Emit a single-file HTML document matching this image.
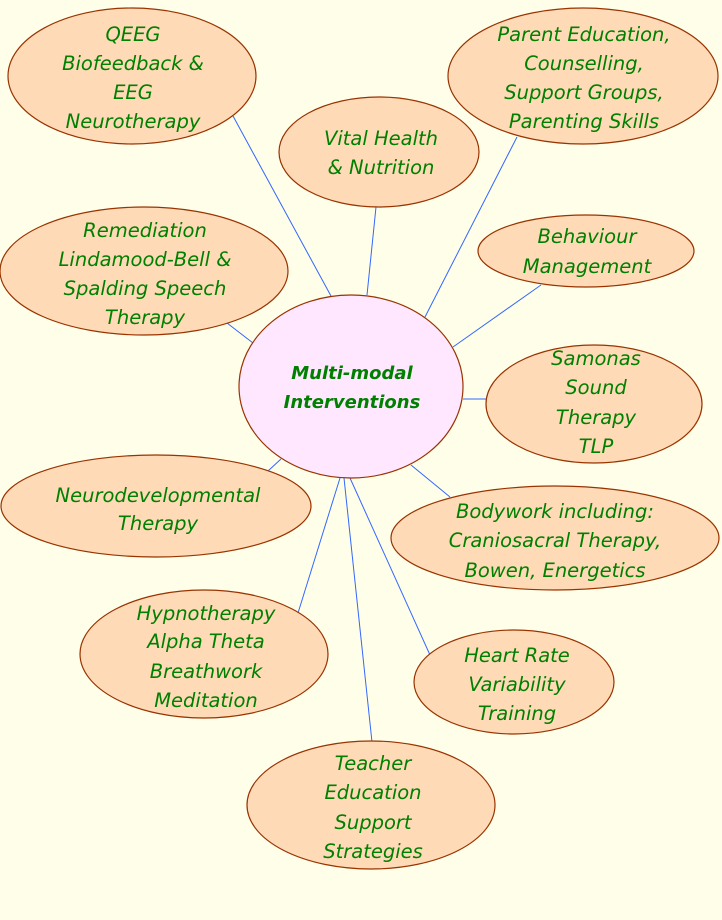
<!DOCTYPE html>
<html>
<head>
<meta charset="utf-8">
<style>
  html, body { margin: 0; padding: 0; background: #FFFFE9; }
  svg { display: block; }
  text {
    font-family: "DejaVu Sans", "Liberation Sans", sans-serif;
    font-style: oblique;
    font-size: 19.5px;
    fill: #008000;
    text-anchor: middle;
  }
  text.b { font-weight: bold; font-size: 18px; }
  .n { fill: #FEDAB7; stroke: #993300; stroke-width: 1.2; }
  .c { fill: #FFE8FF; stroke: #993300; stroke-width: 1.2; }
  line { stroke: #3366FF; stroke-width: 1; }
</style>
</head>
<body>
<svg width="722" height="920" viewBox="0 0 722 920" xmlns="http://www.w3.org/2000/svg">
  <rect x="0" y="0" width="722" height="920" fill="#FFFFE9"/>

  <!-- connectors -->
  <line x1="233" y1="116" x2="331" y2="296"/>
  <line x1="376" y1="207" x2="367" y2="295"/>
  <line x1="517" y1="137" x2="425" y2="317"/>
  <line x1="541" y1="285" x2="453" y2="347"/>
  <line x1="463" y1="399" x2="487" y2="399"/>
  <line x1="411" y1="465" x2="450" y2="497"/>
  <line x1="350" y1="478" x2="430" y2="655"/>
  <line x1="344" y1="478" x2="372" y2="742"/>
  <line x1="340" y1="478" x2="298" y2="613"/>
  <line x1="281" y1="459" x2="268" y2="471"/>
  <line x1="227" y1="323" x2="253" y2="343"/>

  <!-- nodes -->
  <ellipse class="n" cx="132" cy="76" rx="124" ry="68"/>
  <text x="133" y="41">QEEG</text>
  <text x="133" y="70">Biofeedback &amp;</text>
  <text x="133" y="99">EEG</text>
  <text x="133" y="128">Neurotherapy</text>

  <ellipse class="n" cx="379" cy="152" rx="100" ry="55"/>
  <text x="381" y="145">Vital Health</text>
  <text x="381" y="174">&amp; Nutrition</text>

  <ellipse class="n" cx="583" cy="76" rx="135" ry="68"/>
  <text x="584" y="41">Parent Education,</text>
  <text x="584" y="70">Counselling,</text>
  <text x="584" y="99">Support Groups,</text>
  <text x="584" y="128">Parenting Skills</text>

  <ellipse class="n" cx="144" cy="271" rx="144" ry="64"/>
  <text x="145" y="237">Remediation</text>
  <text x="145" y="266">Lindamood-Bell &amp;</text>
  <text x="145" y="295">Spalding Speech</text>
  <text x="145" y="324">Therapy</text>

  <ellipse class="n" cx="586" cy="251" rx="108" ry="36"/>
  <text x="587" y="243">Behaviour</text>
  <text x="587" y="273">Management</text>

  <ellipse class="n" cx="594" cy="404" rx="108" ry="59"/>
  <text x="596" y="365">Samonas</text>
  <text x="596" y="394">Sound</text>
  <text x="596" y="424">Therapy</text>
  <text x="596" y="453">TLP</text>

  <ellipse class="n" cx="156" cy="506" rx="155" ry="51"/>
  <text x="158" y="502">Neurodevelopmental</text>
  <text x="158" y="530">Therapy</text>

  <ellipse class="n" cx="555" cy="538" rx="164" ry="52"/>
  <text x="555" y="518">Bodywork including:</text>
  <text x="555" y="547">Craniosacral Therapy,</text>
  <text x="555" y="577">Bowen, Energetics</text>

  <ellipse class="n" cx="204" cy="654" rx="124" ry="64"/>
  <text x="206" y="620">Hypnotherapy</text>
  <text x="206" y="648">Alpha Theta</text>
  <text x="206" y="678">Breathwork</text>
  <text x="206" y="707">Meditation</text>

  <ellipse class="n" cx="514" cy="682" rx="100" ry="52"/>
  <text x="517" y="662">Heart Rate</text>
  <text x="517" y="691">Variability</text>
  <text x="517" y="720">Training</text>

  <ellipse class="n" cx="371" cy="805" rx="124" ry="64"/>
  <text x="373" y="770">Teacher</text>
  <text x="373" y="799">Education</text>
  <text x="373" y="829">Support</text>
  <text x="373" y="858">Strategies</text>

  <!-- center -->
  <ellipse class="c" cx="351" cy="386.5" rx="112" ry="91.5"/>
  <text class="b" x="352" y="379">Multi-modal</text>
  <text class="b" x="352" y="408">Interventions</text>
</svg>
</body>
</html>
